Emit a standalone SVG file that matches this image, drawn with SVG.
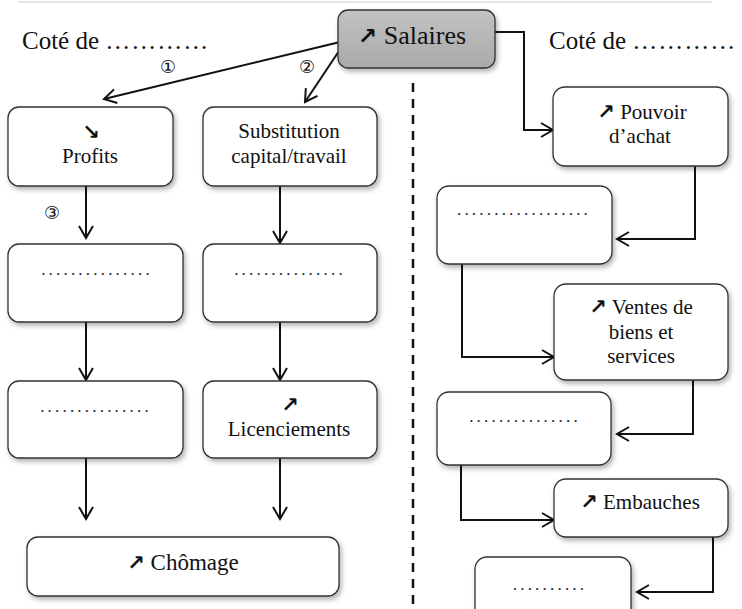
<svg xmlns="http://www.w3.org/2000/svg" width="742" height="609" viewBox="0 0 742 609">
<style>
.box{fill:#fff;stroke:#333;stroke-width:1.3;filter:url(#sh)}
.t{font-family:'Liberation Serif','Times New Roman','DejaVu Serif',serif;font-size:21px;fill:#111;text-anchor:middle}
.ar{font-family:'DejaVu Sans',sans-serif;font-weight:bold;font-size:21px}
.dots{font-family:'Liberation Serif','DejaVu Serif',serif;font-size:17px;fill:#223;letter-spacing:3.2px;text-anchor:middle}
.c{fill:none;stroke:#111;stroke-width:2;marker-end:url(#ah)}
.num{font-family:'DejaVu Sans',sans-serif;font-size:18px;fill:#111;text-anchor:middle}
.h{font-family:'Liberation Serif','Times New Roman',serif;font-size:25px;fill:#111}
</style>
<defs>
<filter id="sh" x="-20%" y="-20%" width="140%" height="150%">
<feDropShadow dx="2" dy="3" stdDeviation="2.5" flood-color="#000" flood-opacity="0.3"/>
</filter>
<linearGradient id="g" x1="0" y1="0" x2="0" y2="1">
<stop offset="0" stop-color="#c2c2c2"/><stop offset="1" stop-color="#a9a9a9"/>
</linearGradient>
<marker id="ah" markerWidth="20" markerHeight="20" refX="13" refY="8" orient="auto" markerUnits="userSpaceOnUse">
<path d="M1,1 L13,8 L1,15" fill="none" stroke="#111" stroke-width="2"/>
</marker>
</defs>
<rect width="742" height="609" fill="#fff"/>
<line x1="18" y1="2" x2="712" y2="2" stroke="#ddd" stroke-width="1.5"/>
<text class="h" x="22" y="49">Coté de <tspan letter-spacing="1">…………</tspan></text>
<text class="h" x="549" y="49">Coté de <tspan letter-spacing="1">…………</tspan></text>
<line x1="413" y1="83" x2="413" y2="609" stroke="#111" stroke-width="2.5" stroke-dasharray="9,7"/>

<g id="connectors">
<path class="c" d="M340,42 L104,99"/>
<path class="c" d="M341,48 L305,102"/>
<path class="c" d="M495,32 H524 V130 H553"/>
<path class="c" d="M86,179 V238"/>
<path class="c" d="M280,186 V243"/>
<path class="c" d="M86,322 V380"/>
<path class="c" d="M280,322 V380"/>
<path class="c" d="M86,458 V519"/>
<path class="c" d="M280,458 V519"/>
<path class="c" d="M695,160 V239 H617"/>
<path class="c" d="M462,258 V357 H554"/>
<path class="c" d="M693,375 V434 H617"/>
<path class="c" d="M461,462 V520 H554"/>
<path class="c" d="M713,531 V592 H637"/>
<text class="num" x="168" y="73">①</text>
<text class="num" x="307" y="73">②</text>
<text class="num" x="52" y="219">③</text>
</g>

<g id="salaires">
<rect x="338" y="10" width="157" height="58" rx="10" fill="url(#g)" stroke="#333" stroke-width="1.3" filter="url(#sh)"/>
<text class="t" x="412" y="44" style="font-size:26px"><tspan class="ar" style="font-size:23px">↗</tspan> Salaires</text>
</g>
<g id="profits">
<rect class="box" x="8" y="107" width="165" height="79" rx="11"/>
<text class="t" x="91" y="139"><tspan class="ar">↘</tspan></text>
<text class="t" x="90" y="163">Profits</text>
</g>
<g id="substitution">
<rect class="box" x="203" y="107" width="174" height="79" rx="11"/>
<text class="t" x="289" y="138">Substitution</text>
<text class="t" x="289" y="163">capital/travail</text>
</g>
<g id="left2">
<rect class="box" x="8" y="244" width="175" height="78" rx="11"/>
<text class="dots" x="97" y="275">...............</text>
</g>
<g id="right2">
<rect class="box" x="203" y="244" width="174" height="78" rx="11"/>
<text class="dots" x="290" y="275">...............</text>
</g>
<g id="left3">
<rect class="box" x="8" y="381" width="175" height="77" rx="11"/>
<text class="dots" x="96" y="412">...............</text>
</g>
<g id="licenciements">
<rect class="box" x="203" y="381" width="174" height="77" rx="11"/>
<text class="t" x="290" y="412"><tspan class="ar">↗</tspan></text>
<text class="t" x="289" y="436">Licenciements</text>
</g>
<g id="chomage">
<rect class="box" x="27" y="537" width="312" height="59" rx="11"/>
<text class="t" x="183" y="570" style="font-size:23px"><tspan class="ar">↗</tspan> Chômage</text>
</g>
<g id="pouvoir">
<rect class="box" x="553" y="87" width="175" height="79" rx="12"/>
<text class="t" x="642" y="119"><tspan class="ar">↗</tspan> Pouvoir</text>
<text class="t" x="640" y="143">d’achat</text>
</g>
<g id="r2">
<rect class="box" x="437" y="186" width="175" height="78" rx="12"/>
<text class="dots" x="524" y="215">..................</text>
</g>
<g id="ventes">
<rect class="box" x="554" y="284" width="174" height="96" rx="12"/>
<text class="t" x="641" y="314"><tspan class="ar">↗</tspan> Ventes de</text>
<text class="t" x="641" y="339">biens et</text>
<text class="t" x="641" y="363">services</text>
</g>
<g id="r4">
<rect class="box" x="437" y="392" width="174" height="73" rx="12"/>
<text class="dots" x="525" y="422">...............</text>
</g>
<g id="embauches">
<rect class="box" x="554" y="479" width="174" height="58" rx="12"/>
<text class="t" x="640" y="509"><tspan class="ar">↗</tspan> Embauches</text>
</g>
<g id="r6">
<rect class="box" x="475" y="557" width="156" height="70" rx="12"/>
<text class="dots" x="550" y="590">..........</text>
</g>
</svg>
